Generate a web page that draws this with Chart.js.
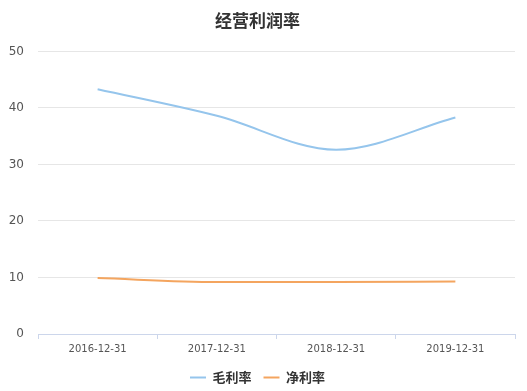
<!DOCTYPE html>
<html>
<head>
<meta charset="utf-8">
<script src="https://cdn.jsdelivr.net/npm/chart.js@4/dist/chart.umd.min.js"></script>
<style>
    html, body { margin: 0; padding: 0; background: #fff; }
    #wrap { width: 527px; height: 391px; }
</style>
</head>
<body>
<div id="wrap"><canvas id="marginChart"></canvas></div>
<script>
// Data
const periods = ['2016-12-31', '2017-12-31', '2018-12-31', '2019-12-31'];
const grossMargin = [43.3, 38.6, 32.6, 38.3];
const netMargin = [9.9, 9.2, 9.2, 9.3];

const ctx = document.getElementById('marginChart').getContext('2d');
const chart = new Chart(ctx, {
    type: 'line',
    data: {
        labels: periods,
        datasets: [{
            label: '毛利率',
            data: grossMargin,
            borderColor: '#95c5ec',
            backgroundColor: '#95c5ec',
            borderWidth: 2,
            pointRadius: 0,
            cubicInterpolationMode: 'monotone'
        }, {
            label: '净利率',
            data: netMargin,
            borderColor: '#f4a55f',
            backgroundColor: '#f4a55f',
            borderWidth: 2,
            pointRadius: 0,
            cubicInterpolationMode: 'monotone'
        }]
    },
    options: {
        responsive: true,
        maintainAspectRatio: false,
        animation: false,
        layout: {
            padding: { left: 0, right: 12, top: 4, bottom: -3 }
        },
        plugins: {
            title: {
                display: true,
                text: '经营利润率',
                color: '#333333',
                font: { family: '"Noto Sans CJK SC", sans-serif', size: 17, weight: 'bold' },
                padding: { top: 6, bottom: 21 }
            },
            legend: {
                position: 'bottom',
                labels: {
                    usePointStyle: true,
                    pointStyle: 'line',
                    pointStyleWidth: 16,
                    padding: 12,
                    color: '#333333',
                    font: { family: '"Noto Sans CJK SC", sans-serif', size: 13, weight: 'bold' }
                }
            },
            tooltip: { enabled: false }
        },
        scales: {
            x: {
                offset: true,
                border: { display: true, color: '#ccd6eb', width: 1 },
                grid: {
                    offset: true,
                    drawOnChartArea: false,
                    drawTicks: true,
                    tickLength: 5,
                    color: '#ccd6eb'
                },
                ticks: {
                    color: '#555555',
                    padding: 4,
                    maxRotation: 0,
                    font: { family: '"DejaVu Sans", sans-serif', size: 10 }
                }
            },
            y: {
                min: 0,
                max: 50,
                border: { display: false },
                grid: {
                    color: '#e6e6e6',
                    drawTicks: false
                },
                ticks: {
                    stepSize: 10,
                    color: '#555555',
                    padding: 14,
                    font: { family: '"DejaVu Sans", sans-serif', size: 12 }
                },
                afterFit: scale => { scale.width = 38; }
            }
        }
    }
});
</script>
</body>
</html>
